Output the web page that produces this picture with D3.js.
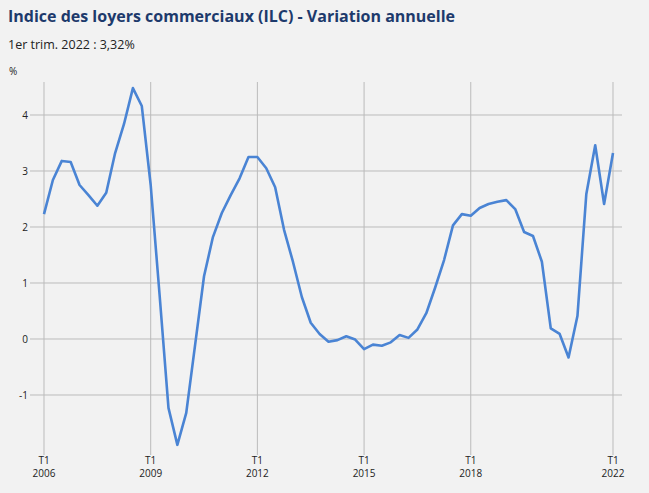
<!DOCTYPE html>
<html><head><meta charset="utf-8">
<script src="https://cdn.jsdelivr.net/npm/d3@7"></script>
<style>
body{margin:0;background:#f2f2f2;font-family:"Open Sans",sans-serif;}
</style></head><body>
<script>
var startYear = 2006;
var values = [2.23,2.84,3.18,3.16,2.75,2.57,2.38,2.61,3.32,3.84,4.48,4.16,2.75,0.79,-1.23,-1.89,
  -1.32,-0.1,1.12,1.82,2.25,2.57,2.87,3.25,3.25,3.05,2.71,1.95,1.38,0.75,0.29,0.09,
  -0.05,-0.02,0.05,-0.01,-0.18,-0.1,-0.12,-0.06,0.07,0.02,0.17,0.46,0.92,1.41,2.03,2.23,
  2.2,2.34,2.41,2.45,2.48,2.32,1.91,1.84,1.38,0.19,0.09,-0.33,0.41,2.59,3.46,2.41,3.32];
var tickYears = [2006, 2009, 2012, 2015, 2018, 2022];
var yTicks = [-1, 0, 1, 2, 3, 4];

var data = values.map(function(v, i) { return {t: startYear + i / 4, v: v}; });

var svg = d3.select("body").append("svg").attr("width", 649).attr("height", 493);

svg.append("text").attr("x", 8).attr("y", 22).attr("fill", "#1d3a6c")
  .attr("font-size", 16).attr("font-weight", "bold")
  .text("Indice des loyers commerciaux (ILC) - Variation annuelle");
svg.append("text").attr("x", 8).attr("y", 49).attr("fill", "#222").attr("font-size", 12.5)
  .text("1er trim. 2022 : 3,32%");
svg.append("text").attr("x", 9).attr("y", 75).attr("fill", "#222").attr("font-size", 10).text("%");

var x = d3.scaleLinear().domain([2006, 2022]).range([44, 613]);
var y = d3.scaleLinear().domain([0, 4]).range([339, 115]);

var grid = svg.append("g");
grid.selectAll(".h").data(yTicks).enter().append("line")
  .attr("x1", 30).attr("x2", 622).attr("y1", d => y(d)).attr("y2", d => y(d))
  .attr("stroke", "#bbb").attr("stroke-width", 1);
grid.selectAll(".v").data(tickYears).enter().append("line")
  .attr("x1", d => x(d)).attr("x2", d => x(d)).attr("y1", 82).attr("y2", 455)
  .attr("stroke", "#bbb").attr("stroke-width", 1);

svg.selectAll(".yl").data(yTicks).enter().append("text")
  .attr("x", 28).attr("y", d => y(d) + 4).attr("text-anchor", "end")
  .attr("font-size", 10).attr("fill", "#222").text(d => d);

var xl = svg.selectAll(".xl").data(tickYears).enter().append("g")
  .attr("transform", d => "translate(" + x(d) + ",0)");
xl.append("text").attr("y", 464).attr("text-anchor", "middle").attr("font-size", 10)
  .attr("fill", "#222").text("T1");
xl.append("text").attr("y", 477).attr("text-anchor", "middle").attr("font-size", 10)
  .attr("fill", "#222").text(d => d);

svg.append("path").datum(data)
  .attr("fill", "none").attr("stroke", "#4a84d4").attr("stroke-width", 2.6)
  .attr("stroke-linejoin", "round")
  .attr("d", d3.line().x(d => x(d.t)).y(d => y(d.v)));
</script>
</body></html>
